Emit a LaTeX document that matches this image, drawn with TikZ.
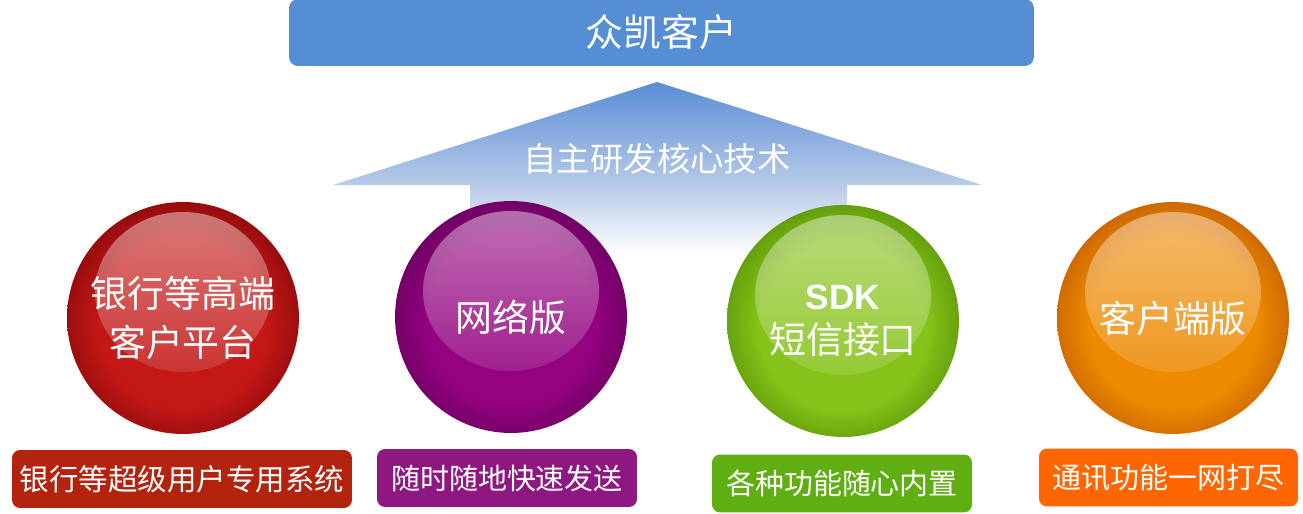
\documentclass[tikz,border=0pt]{standalone}
\usepackage{fontspec}
\newfontfamily\cjk{Noto Sans CJK SC}
\newfontfamily\sdkfont{Liberation Sans}
\usetikzlibrary{fadings}
\definecolor{barblue}{HTML}{558ED5}
\definecolor{arrowtop}{HTML}{5A8ED6}
\definecolor{arrowmid}{HTML}{B7CAE8}
\definecolor{redin}{HTML}{C41816}
\definecolor{redrim}{HTML}{900A0C}
\definecolor{purplein}{HTML}{93027F}
\definecolor{purplerim}{HTML}{6C0061}
\definecolor{greenin}{HTML}{86C31A}
\definecolor{greenrim}{HTML}{5E9A08}
\definecolor{orangein}{HTML}{EE8A00}
\definecolor{orangerim}{HTML}{C86400}
\definecolor{redtag}{HTML}{B3230E}
\definecolor{purpletag}{HTML}{8E1781}
\definecolor{greentag}{HTML}{5FAF12}
\definecolor{orangetag}{HTML}{FF6600}
\newcommand{\ballshade}[3]{% name, inner colour, rim colour
  \pgfdeclareradialshading{#1}{\pgfpoint{0bp}{-2bp}}{color(0bp)=(#2); color(18bp)=(#2); color(27bp)=(#3); color(50bp)=(#3)}}
\ballshade{redball}{redin}{redrim}
\ballshade{purpleball}{purplein}{purplerim}
\ballshade{greenball}{greenin}{greenrim}
\ballshade{orangeball}{orangein}{orangerim}
\pgfdeclareverticalshading{arrowshade}{100bp}{color(0bp)=(white); color(28bp)=(white);
  color(47bp)=(arrowmid); color(75bp)=(arrowtop); color(100bp)=(arrowtop)}
\newcommand{\ball}[5]{% x, y, name, shading, text
  \node[ball,shade,shading=#4] (#3) at (#1,#2) {#5};}
\newcommand{\tagbox}[6]{% x, y, name, colour, width, text
  \node[tag,fill=#4,minimum width=#5] (#3) at (#1,#2) {#6};}

\begin{document}
\begin{tikzpicture}[x=0.02cm,y=-0.02cm,
  ball/.style={circle,minimum size=4.64cm,inner sep=0,text=white,align=center,
    font=\cjk\fontsize{21pt}{28pt}\selectfont,
    path picture={\fill[white,fill opacity=.45,path fading=south]
      ([yshift=0.52cm]path picture bounding box.center) ellipse [x radius=1.76cm,y radius=1.6cm];}},
  tag/.style={rounded corners=0.16cm,minimum height=1.16cm,inner sep=0,text=white,
    font=\cjk\fontsize{16.5pt}{20pt}\selectfont}]
  \useasboundingbox (0,0) rectangle (1303,514);
  % arrow behind the balls
  \shade[shading=arrowshade] (333,185) -- (657,82) -- (982,185) -- (847,185)
    -- (847,265) -- (470,265) -- (470,185) -- cycle;
  \node[text=white,font=\cjk\fontsize{19pt}{22pt}\selectfont] (core) at (657,159) {自主研发核心技术};
  % top bar
  \node[fill=barblue,rounded corners=0.18cm,minimum width=14.9cm,minimum height=1.34cm,
    text=white,font=\cjk\fontsize{21.5pt}{24pt}\selectfont] (client) at (661.5,32.5) {众凯客户};
  % balls
  \ball{183}{318}{bank}{redball}{银行等高端\\客户平台}
  \ball{511}{317}{web}{purpleball}{网络版}
  \ball{843}{321}{sdk}{greenball}{{\sdkfont\bfseries\fontsize{20pt}{24pt}\selectfont SDK}\\[-3pt]短信接口}
  \ball{1173}{318}{desk}{orangeball}{客户端版}
  % tags under the balls
  \tagbox{182}{479}{banktag}{redtag}{6.8cm}{\fontsize{16.8pt}{20pt}\selectfont 银行等超级用户专用系统}
  \tagbox{507}{478}{webtag}{purpletag}{5.2cm}{随时随地快速发送}
  \tagbox{842}{483.5}{sdktag}{greentag}{5.2cm}{各种功能随心内置}
  \tagbox{1168.5}{477.5}{desktag}{orangetag}{5.18cm}{通讯功能一网打尽}
\end{tikzpicture}
\end{document}
